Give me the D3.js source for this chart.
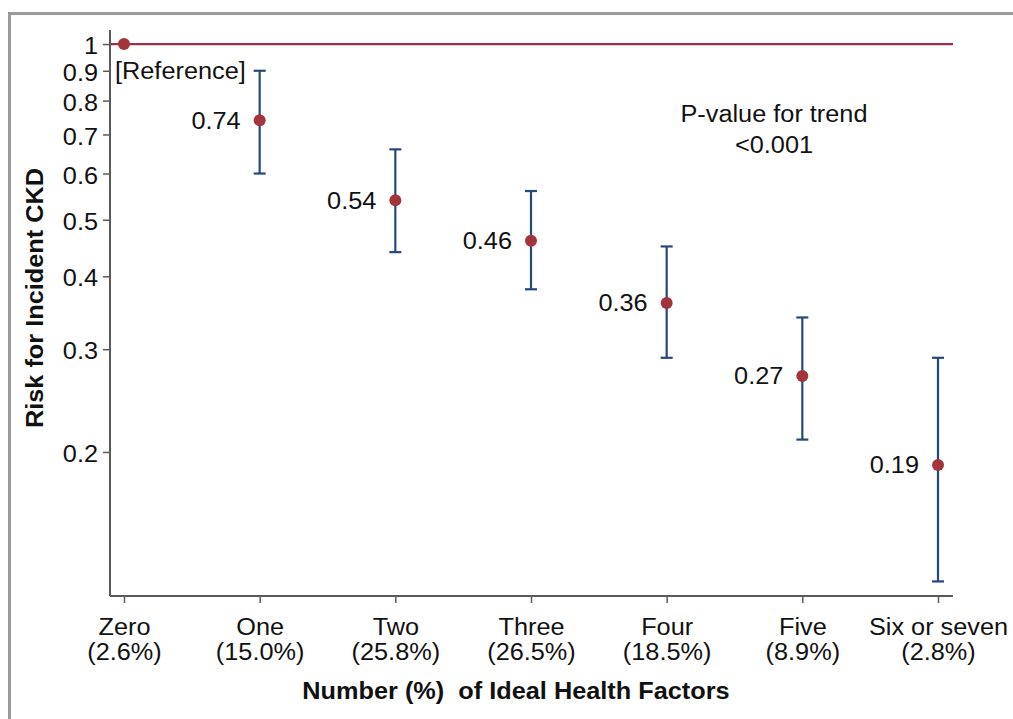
<!DOCTYPE html>
<html><head><meta charset="utf-8">
<script src="https://cdn.jsdelivr.net/npm/d3@7"></script>
<style>
body{margin:0;background:#fff;}
svg{display:block;font-family:"Liberation Sans",Arial,Helvetica,sans-serif;}
</style></head>
<body><svg id="chart" width="1013" height="719"></svg>
<script>
const categories = ["Zero","One","Two","Three","Four","Five","Six or seven"];
const percents = ["(2.6%)","(15.0%)","(25.8%)","(26.5%)","(18.5%)","(8.9%)","(2.8%)"];
const estimates = [1, 0.74, 0.54, 0.46, 0.36, 0.27, 0.19];
const lowerCI = [null, 0.60, 0.44, 0.38, 0.29, 0.21, 0.12];
const upperCI = [null, 0.90, 0.66, 0.56, 0.45, 0.34, 0.29];
const estLabels = ["", "0.74", "0.54", "0.46", "0.36", "0.27", "0.19"];
const yTicks = [0.2, 0.3, 0.4, 0.5, 0.6, 0.7, 0.8, 0.9, 1];
const yTickLabels = ["0.2","0.3","0.4","0.5","0.6","0.7","0.8","0.9","1"];

(function(){
const svg = d3.select("#chart");
const pL = 110, pR = 953, pT = 30, pB = 596;
const FS = 23, STRETCH = 1.1;

// outer frame
svg.append("path").attr("d", "M9.5,719 L9.5,13.5 L1013,13.5")
  .attr("fill","none").attr("stroke","#9a9a9a").attr("stroke-width",3);

const x = d3.scalePoint().domain(categories).range([124, 938]);
const y = d3.scaleLog().domain([0.1133, 1.057]).range([pB, pT]);

// reference line
svg.append("line").attr("x1", pL).attr("x2", pR)
  .attr("y1", y(1)).attr("y2", y(1))
  .attr("stroke", "#a02c4c").attr("stroke-width", 2.2);

// y axis
const yAxis = d3.axisLeft(y).tickValues(yTicks)
  .tickFormat((d,i) => yTickLabels[i]).tickSize(7).tickPadding(5);
const gy = svg.append("g").attr("transform", `translate(${pL},0)`).call(yAxis);
gy.select(".domain").attr("stroke","#5a5a5a").attr("stroke-width",2)
  .attr("d", `M0,${pT}V${pB}`);
gy.selectAll(".tick line").attr("stroke","#5a5a5a").attr("stroke-width",1.5);
gy.selectAll(".tick text").attr("font-size", FS).attr("fill","#111")
  .attr("font-family","Liberation Sans, Arial, sans-serif").attr("dy","0.42em")
  .classed("st", true);

// x axis
const xAxis = d3.axisBottom(x).tickSize(7).tickFormat("");
const gx = svg.append("g").attr("transform", `translate(0,${pB})`).call(xAxis);
gx.select(".domain").attr("stroke","#5a5a5a").attr("stroke-width",2)
  .attr("d", `M${pL},0H${pR}`);
gx.selectAll(".tick line").attr("stroke","#5a5a5a").attr("stroke-width",1.5);
gx.selectAll(".tick").each(function(d,i){
  const g = d3.select(this);
  g.append("text").attr("class","st").attr("fill","#111").attr("font-size",FS)
    .attr("text-anchor","middle").attr("font-family","Liberation Sans, Arial, sans-serif")
    .attr("x",0).attr("y",39).text(categories[i]);
  g.append("text").attr("class","st").attr("fill","#111").attr("font-size",FS)
    .attr("text-anchor","middle").attr("font-family","Liberation Sans, Arial, sans-serif")
    .attr("x",0).attr("y",64).text(percents[i]);
});

// error bars
const idx = d3.range(categories.length).filter(i => lowerCI[i] != null);
const eb = svg.append("g").attr("stroke","#23497a").attr("stroke-width",2.2);
idx.forEach(i => {
  const cx = x(categories[i]);
  eb.append("line").attr("x1",cx).attr("x2",cx).attr("y1",y(upperCI[i])).attr("y2",y(lowerCI[i]));
  eb.append("line").attr("x1",cx-6).attr("x2",cx+6).attr("y1",y(upperCI[i])).attr("y2",y(upperCI[i]));
  eb.append("line").attr("x1",cx-6).attr("x2",cx+6).attr("y1",y(lowerCI[i])).attr("y2",y(lowerCI[i]));
});

// points
svg.append("g").selectAll("circle").data(estimates).join("circle")
  .attr("cx",(d,i)=>x(categories[i])).attr("cy",d=>y(d)).attr("r",6)
  .attr("fill","#a2343b");

// value labels
svg.append("g").selectAll("text").data(estimates).join("text").attr("class","st")
  .attr("x",(d,i)=>x(categories[i]) - 19).attr("y",d=>y(d)).attr("dy","0.36em")
  .attr("text-anchor","end").attr("font-size",FS).attr("fill","#111")
  .text((d,i)=>estLabels[i]);

// reference label
svg.append("text").attr("class","st").attr("x", 115).attr("y", y(0.9)).attr("dy","0.36em")
  .attr("font-size",FS).attr("fill","#111").text("[Reference]");

// p-value annotation
svg.append("text").attr("class","st").attr("x", 774).attr("y", 122).attr("text-anchor","middle")
  .attr("font-size",FS).attr("fill","#111").text("P-value for trend");
svg.append("text").attr("class","st").attr("x", 774).attr("y", 153).attr("text-anchor","middle")
  .attr("font-size",FS).attr("fill","#111").text("<0.001");

// axis titles
svg.append("text").attr("class","st").attr("x", 516).attr("y", 699).attr("text-anchor","middle")
  .attr("font-size",23).attr("font-weight","bold").attr("fill","#111")
  .attr("xml:space","preserve").style("white-space","pre")
  .text("Number (%)  of Ideal Health Factors");
svg.append("text").attr("class","st").attr("transform","translate(43,298) rotate(-90)")
  .attr("text-anchor","middle").attr("font-size",23).attr("font-weight","bold")
  .attr("fill","#111").text("Risk for Incident CKD");

// widen glyphs slightly to match the reference's wider lettering
svg.selectAll("text.st").each(function(){
  const len = this.getComputedTextLength();
  if (len > 0) {
    d3.select(this).attr("textLength", len * STRETCH).attr("lengthAdjust", "spacingAndGlyphs");
  }
});
})();
</script></body></html>
